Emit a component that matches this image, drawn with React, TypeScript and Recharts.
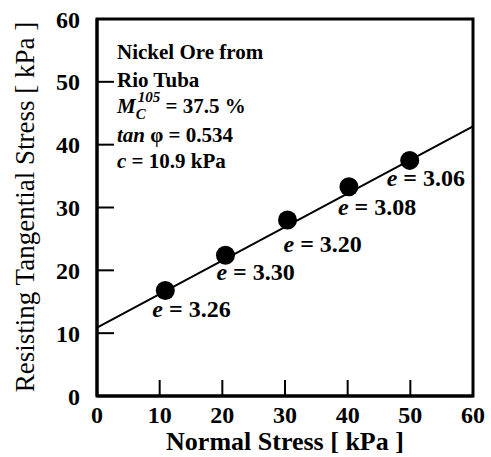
import React from 'react'
import { ComposedChart, Line, Scatter, XAxis, YAxis, ReferenceArea, Customized } from 'recharts'

// measured points (normal stress, tangential stress) and void ratio e
const normalStress = [10.9, 20.5, 30.4, 40.2, 49.9]
const tangStress = [16.8, 22.4, 28.0, 33.3, 37.5]
const voidRatio = ['3.26', '3.30', '3.20', '3.08', '3.06']

// fitted line c = 10.9 kPa, tan phi = 0.534
const fitX = [0, 60]
const fitY = [10.9, 42.9]

const xTicks = [0, 10, 20, 30, 40, 50, 60]
const yTicks = [0, 10, 20, 30, 40, 50, 60]

const FONT = '"Liberation Serif", "DejaVu Serif", serif'

const points = normalStress.map((x, i) => ({ x, y: tangStress[i], e: voidRatio[i] }))
const fit = fitX.map((x, i) => ({ x, y: fitY[i] }))

// label placement relative to each dot
const labelOffsets = [
  [-13, 27],
  [-9, 25],
  [-4, 32],
  [-11, 28],
  [-23, 26],
]

const Dot = (props: any) => {
  const { cx, cy, payload } = props
  const i = normalStress.indexOf(payload.x)
  const [dx, dy] = labelOffsets[i] ?? [0, 25]
  return (
    <g>
      <circle cx={cx} cy={cy} r={9.5} fill="#000" />
      <text x={cx + dx} y={cy + dy} fontFamily={FONT} fontSize={24} fontWeight="bold" fill="#000">
        <tspan fontStyle="italic">e</tspan> = {payload.e}
      </text>
    </g>
  )
}

const Annotations = () => (
  <g fontFamily={FONT} fontWeight="bold" fill="#000" fontSize={21}>
    <text x={117} y={59}>Nickel Ore from</text>
    <text x={117} y={87}>Rio Tuba</text>
    <text x={117} y={113}>
      <tspan fontStyle="italic">M</tspan>
      <tspan fontStyle="italic" fontSize={15} dy={6}>C</tspan>
      <tspan fontStyle="italic" fontSize={15} dx={-8} dy={-17}>105</tspan>
      <tspan dy={11}> = 37.5 %</tspan>
    </text>
    <text x={117} y={142}>
      <tspan fontStyle="italic">tan</tspan> φ = 0.534
    </text>
    <text x={117} y={168}>
      <tspan fontStyle="italic">c</tspan> = 10.9 kPa
    </text>
    <text x={285} y={450} textAnchor="middle" fontSize={26}>Normal Stress [ kPa ]</text>
    <text x={34} y={207} textAnchor="middle" fontSize={27} fontWeight="normal" transform="rotate(-90 34 207)">
      Resisting Tangential Stress [ kPa ]
    </text>
  </g>
)

export default function App() {
  return (
    <div style={{ position: 'absolute', left: 0, top: 0, width: 491, height: 457, background: '#fff' }}>
      <ComposedChart width={491} height={457} margin={{ top: 19, right: 18, bottom: 0, left: 0 }}>
        <XAxis
          type="number"
          dataKey="x"
          domain={[0, 60]}
          ticks={xTicks}
          height={61}
          axisLine={{ stroke: '#000', strokeWidth: 3 }}
          tickLine={{ stroke: '#000', strokeWidth: 2 }}
          tickSize={-16}
          tickMargin={26}
          tick={{ fill: '#000', fontSize: 24, fontFamily: FONT, fontWeight: 'bold' }}
          allowDataOverflow
        />
        <YAxis
          type="number"
          dataKey="y"
          domain={[0, 60]}
          ticks={yTicks}
          width={97}
          axisLine={{ stroke: '#000', strokeWidth: 3 }}
          tickLine={{ stroke: '#000', strokeWidth: 2 }}
          tickSize={-17}
          tickMargin={34}
          tick={{ fill: '#000', fontSize: 24, fontFamily: FONT, fontWeight: 'bold' }}
          allowDataOverflow
        />
        <ReferenceArea x1={0} x2={60} y1={0} y2={60} fill="none" stroke="#000" strokeWidth={3} fillOpacity={0} />
        <Line
          data={fit}
          dataKey="y"
          type="linear"
          stroke="#000"
          strokeWidth={2}
          dot={false}
          activeDot={false}
          isAnimationActive={false}
        />
        <Scatter data={points} dataKey="y" shape={<Dot />} isAnimationActive={false} />
        <Customized component={Annotations} />
      </ComposedChart>
    </div>
  )
}
